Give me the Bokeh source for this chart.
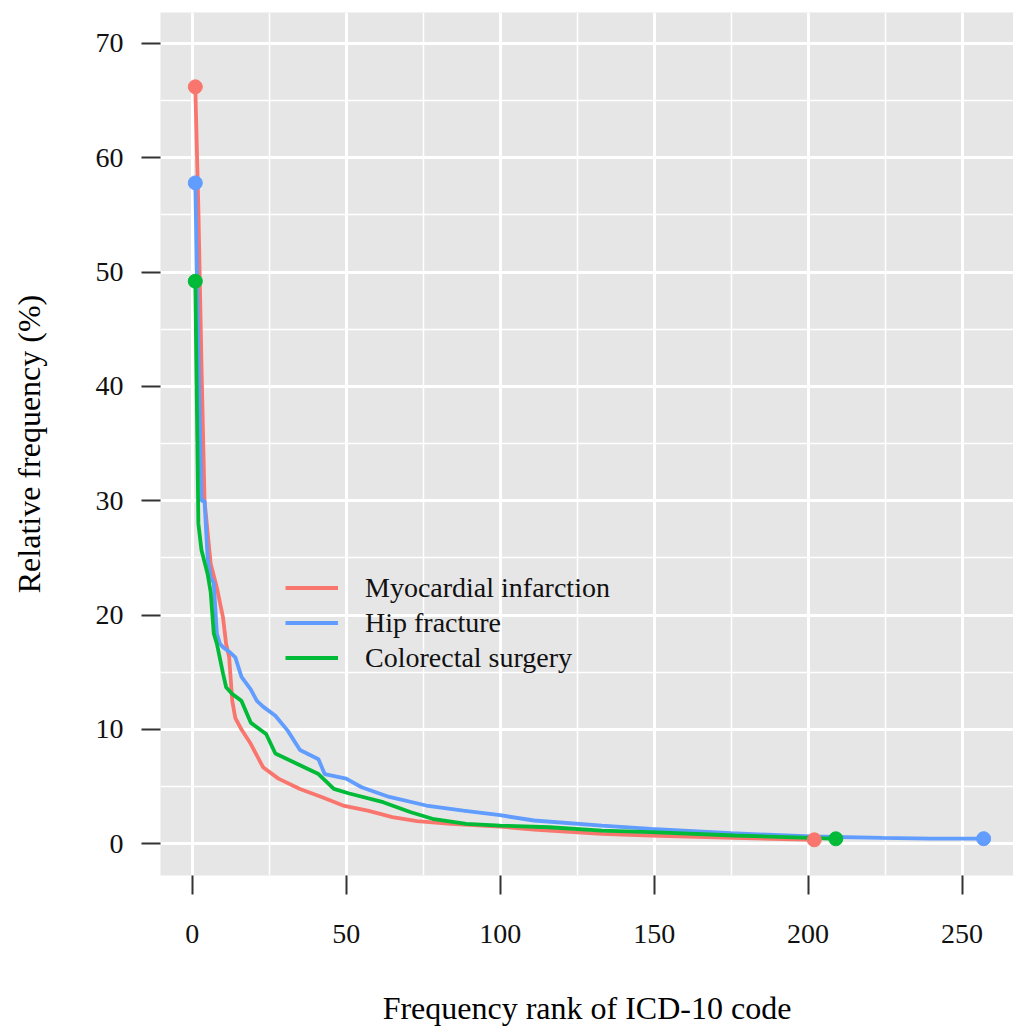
from bokeh.plotting import figure
from bokeh.models import FixedTicker, Legend, LegendItem, Range1d
from bokeh.embed import file_html
from bokeh.resources import INLINE

# ---- data ----
series_names = ["Myocardial infarction", "Hip fracture", "Colorectal surgery"]
series_colors = ["#F8766D", "#619CFF", "#00BA38"]

mi_rank = [1, 2, 3, 4, 6, 8, 10, 11, 12, 13, 14, 16, 19, 23, 28, 35, 42, 49, 57, 65, 73, 84, 100, 111, 116, 133, 149, 176, 202]
mi_freq = [66.2, 55.5, 42.0, 30.0, 24.5, 22.4, 19.8, 17.5, 16.3, 12.5, 11.0, 10.0, 8.75, 6.7, 5.7, 4.8, 4.1, 3.35, 2.9, 2.33, 1.98, 1.75, 1.51, 1.25, 1.16, 0.87, 0.73, 0.52, 0.35]

hf_rank = [1, 2, 3, 4, 5, 6, 7, 8, 9, 10, 12, 14, 16, 19, 21, 23, 27, 31, 35, 41, 43, 50, 55, 64, 76, 88, 100, 111, 133, 149, 175, 201, 224, 240, 257]
hf_freq = [57.8, 43.0, 30.0, 30.0, 25.0, 23.3, 22.8, 18.4, 17.5, 17.2, 16.8, 16.3, 14.6, 13.5, 12.5, 12.0, 11.2, 9.9, 8.2, 7.4, 6.1, 5.7, 4.95, 4.1, 3.35, 2.9, 2.5, 2.04, 1.6, 1.3, 0.93, 0.64, 0.52, 0.46, 0.45]

cs_rank = [1, 2, 3, 5, 6, 7, 8, 10, 11, 13, 16, 19, 24, 27, 34, 41, 46, 51, 62, 71, 78, 89, 100, 116, 133, 149, 176, 201, 209]
cs_freq = [49.2, 28.0, 25.7, 23.6, 22.0, 18.4, 17.5, 14.9, 13.7, 13.1, 12.5, 10.6, 9.6, 7.9, 7.0, 6.1, 4.8, 4.4, 3.64, 2.76, 2.19, 1.75, 1.6, 1.45, 1.16, 1.02, 0.73, 0.52, 0.44]

x_ticks = [0, 50, 100, 150, 200, 250]
x_minor = [25, 75, 125, 175, 225]
y_ticks = [0, 10, 20, 30, 40, 50, 60, 70]
y_minor = [5, 15, 25, 35, 45, 55, 65]

FONT = "Liberation Serif"

p = figure(width=1013, height=1032, output_backend="svg", toolbar_location=None,
           x_range=Range1d(-10.3, 266.7), y_range=Range1d(-2.77, 72.7),
           min_border_left=160, min_border_right=0, min_border_top=12, min_border_bottom=157)

p.background_fill_color = "#E6E6E6"
p.border_fill_color = "white"
p.outline_line_color = None

p.xaxis.ticker = FixedTicker(ticks=x_ticks, minor_ticks=x_minor)
p.yaxis.ticker = FixedTicker(ticks=y_ticks, minor_ticks=y_minor)

for g in (p.xgrid[0], p.ygrid[0]):
    g.grid_line_color = "white"
    g.grid_line_width = 3
    g.minor_grid_line_color = "white"
    g.minor_grid_line_width = 1.5

for ax in (p.xaxis[0], p.yaxis[0]):
    ax.axis_line_color = None
    ax.major_tick_line_color = "#333333"
    ax.major_tick_line_width = 2
    ax.major_tick_out = 19
    ax.major_tick_in = 0
    ax.minor_tick_line_color = None
    ax.major_label_text_font = FONT
    ax.major_label_text_font_size = "28px"
    ax.major_label_text_color = "#111111"
    ax.axis_label_text_font = FONT
    ax.axis_label_text_font_size = "32px"
    ax.axis_label_text_font_style = "normal"
    ax.axis_label_text_color = "black"

p.xaxis.axis_label = "Frequency rank of ICD-10 code"
p.yaxis.axis_label = "Relative frequency (%)"
p.xaxis.major_label_standoff = 30
p.yaxis.major_label_standoff = 18
p.xaxis.axis_label_standoff = 44
p.yaxis.axis_label_standoff = 46

data = [(mi_rank, mi_freq), (hf_rank, hf_freq), (cs_rank, cs_freq)]
renderers = []
for (xs, ys), col in zip(data, series_colors):
    r = p.line(xs, ys, line_color=col, line_width=3.8)
    renderers.append(r)
for (xs, ys), col in zip(data, series_colors):
    p.scatter([xs[0], xs[-1]], [ys[0], ys[-1]], size=14, fill_color=col, line_color=col)

legend = Legend(items=[LegendItem(label=n, renderers=[r]) for n, r in zip(series_names, renderers)],
                location=(125, 200), orientation="vertical",
                background_fill_alpha=0, border_line_color=None,
                glyph_width=53, glyph_height=35, label_height=35, label_standoff=27,
                spacing=0, padding=0, margin=0,
                label_text_font=FONT, label_text_font_size="28px", label_text_color="#111111")
p.add_layout(legend)

open("out.html", "w").write(file_html(p, INLINE))
